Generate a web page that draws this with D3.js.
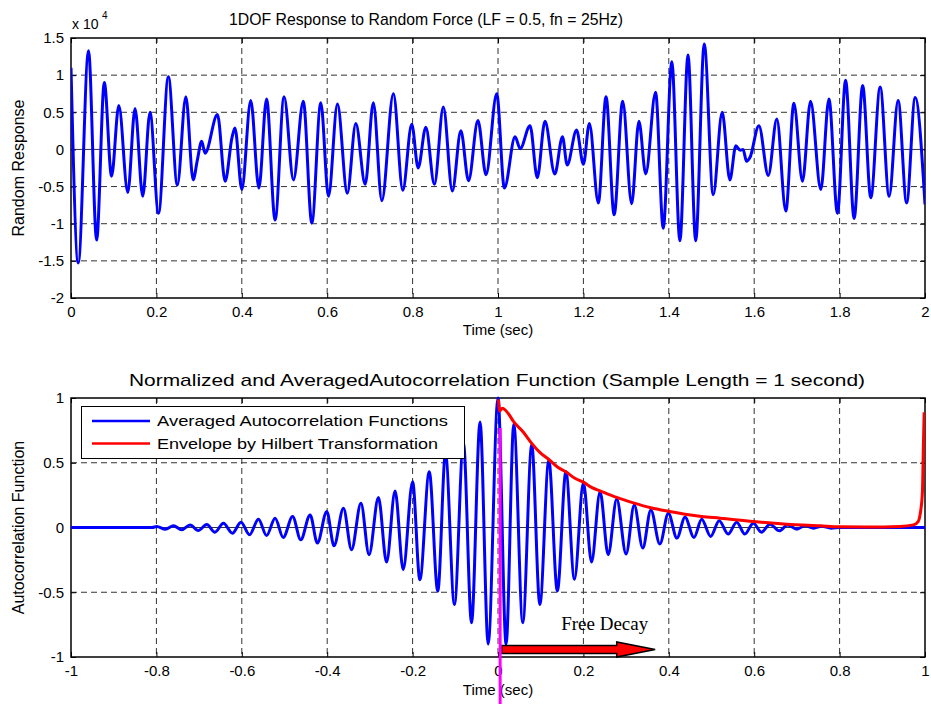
<!DOCTYPE html>
<html>
<head>
<meta charset="utf-8">
<title>1DOF Response and Autocorrelation</title>
<script src="https://d3js.org/d3.v7.min.js"></script>
<style>
	body { margin: 0; background: #fff; }
	text { font-family: "Liberation Sans", Arial, sans-serif; fill: #000; }
</style>
</head>
<body>
<div id="chart"></div>
<script type="text/javascript">

	// top plot: peaks / troughs of the random response (x 10^4)
	var respTime = [0.000, 0.017, 0.041, 0.060, 0.078, 0.095, 0.112, 0.133, 0.150, 0.168, 0.185, 0.205, 0.228, 0.249, 0.269, 0.286, 0.296, 0.306, 0.314, 0.343,
		0.361, 0.377, 0.384, 0.400, 0.421, 0.440, 0.458, 0.478, 0.499, 0.521, 0.544, 0.564, 0.585, 0.603, 0.624, 0.647, 0.667, 0.689, 0.708, 0.728,
		0.755, 0.777, 0.798, 0.813, 0.831, 0.851, 0.872, 0.893, 0.913, 0.931, 0.953, 0.972, 0.997, 1.015, 1.040, 1.052, 1.075, 1.092, 1.110, 1.133,
		1.151, 1.162, 1.184, 1.200, 1.214, 1.235, 1.253, 1.272, 1.292, 1.313, 1.330, 1.346, 1.369, 1.387, 1.407, 1.426, 1.445, 1.463, 1.483, 1.504,
		1.525, 1.543, 1.557, 1.567, 1.574, 1.582, 1.590, 1.611, 1.633, 1.653, 1.674, 1.693, 1.713, 1.732, 1.756, 1.775, 1.795, 1.814, 1.834, 1.854,
		1.873, 1.895, 1.916, 1.937, 1.957, 1.977, 2.000];
	var respValue = [1.10, -1.53, 1.33, -1.22, 0.90, -0.36, 0.59, -0.58, 0.55, -0.63, 0.50, -0.86, 0.98, -0.48, 0.71, -0.41, -0.14, 0.11, -0.05, 0.47,
		-0.43, 0.16, 0.29, -0.54, 0.66, -0.52, 0.68, -0.95, 0.71, -0.41, 0.65, -0.99, 0.63, -0.63, 0.61, -0.59, 0.35, -0.47, 0.63, -0.69,
		0.75, -0.55, 0.34, -0.25, 0.30, -0.47, 0.57, -0.56, 0.25, -0.42, 0.39, -0.34, 0.75, -0.52, 0.17, 0.01, 0.32, -0.38, 0.38, -0.33,
		0.17, -0.21, 0.26, -0.20, 0.35, -0.72, 0.71, -0.88, 0.65, -0.73, 0.38, -0.33, 0.77, -1.06, 1.18, -1.23, 1.27, -1.23, 1.42, -0.61,
		0.50, -0.41, 0.05, -0.01, 0.00, -0.16, -0.11, 0.32, -0.35, 0.41, -0.83, 0.62, -0.43, 0.65, -0.54, 0.68, -0.86, 0.93, -0.93, 0.86,
		-0.65, 0.84, -0.63, 0.66, -0.72, 0.70, -0.74];

	// bottom plot: averaged autocorrelation (peaks / troughs)
	var acfLag = [-1.000, -0.810, -0.799, -0.779, -0.760, -0.741, -0.721, -0.702, -0.682, -0.663, -0.643, -0.622, -0.602, -0.582, -0.561, -0.542, -0.522, -0.503,
		-0.481, -0.462, -0.440, -0.423, -0.401, -0.384, -0.362, -0.343, -0.321, -0.302, -0.280, -0.261, -0.241, -0.222, -0.200, -0.183, -0.161, -0.141,
		-0.123, -0.102, -0.081, -0.062, -0.042, -0.023, 0.000, 0.019, 0.037, 0.058, 0.079, 0.098, 0.119, 0.139, 0.159, 0.179, 0.200, 0.219,
		0.239, 0.258, 0.278, 0.300, 0.319, 0.339, 0.358, 0.379, 0.399, 0.419, 0.438, 0.459, 0.477, 0.498, 0.518, 0.539, 0.559, 0.578,
		0.598, 0.617, 0.637, 0.659, 0.678, 0.700, 0.719, 0.739, 0.758, 0.780, 0.800, 1.000];
	var acfValue = [0, 0, 0.008, -0.013, 0.013, -0.018, 0.020, -0.023, 0.023, -0.036, 0.033, -0.044, 0.041, -0.056, 0.064, -0.062, 0.072, -0.077,
		0.085, -0.095, 0.097, -0.120, 0.123, -0.141, 0.149, -0.172, 0.187, -0.210, 0.231, -0.267, 0.282, -0.326, 0.354, -0.403, 0.431, -0.492,
		0.572, -0.595, 0.656, -0.736, 0.815, -0.900, 1.000, -0.900, 0.800, -0.736, 0.640, -0.595, 0.520, -0.490, 0.430, -0.400, 0.346, -0.267,
		0.277, -0.210, 0.220, -0.205, 0.174, -0.159, 0.136, -0.128, 0.110, -0.082, 0.079, -0.077, 0.064, -0.069, 0.052, -0.051, 0.041, -0.051,
		0.033, -0.036, 0.026, -0.026, 0.020, -0.013, 0.015, -0.005, 0.010, -0.005, 0, 0];

	// envelope by Hilbert transformation
	var envLag = [0.001, 0.004, 0.010, 0.024, 0.037, 0.059, 0.079, 0.098, 0.119, 0.140, 0.159, 0.180, 0.200, 0.219, 0.239, 0.278, 0.317, 0.358,
		0.399, 0.438, 0.477, 0.520, 0.598, 0.676, 0.754, 0.801, 0.864, 0.941, 0.973, 0.984, 0.989, 0.994, 0.996, 0.998];
	var envValue = [0.99, 0.90, 0.92, 0.88, 0.815, 0.738, 0.65, 0.58, 0.525, 0.465, 0.43, 0.38, 0.35, 0.31, 0.283, 0.232, 0.19, 0.152,
		0.125, 0.103, 0.085, 0.072, 0.046, 0.026, 0.013, 0.005, 0.004, 0.008, 0.02, 0.046, 0.11, 0.277, 0.6, 0.89];

	var topXTicks = [0, 0.2, 0.4, 0.6, 0.8, 1, 1.2, 1.4, 1.6, 1.8, 2];
	var topYTicks = [-2, -1.5, -1, -0.5, 0, 0.5, 1, 1.5];
	var botXTicks = [-1, -0.8, -0.6, -0.4, -0.2, 0, 0.2, 0.4, 0.6, 0.8, 1];
	var botYTicks = [-1, -0.5, 0, 0.5, 1];

	var legendLabels = ["Averaged Autocorrelation Functions", "Envelope by Hilbert Transformation"];
	var legendColors = ["#0000ff", "#ff0000"];

	var width = 931, height = 704;
	var svg = d3.select("#chart").append("svg")
		.attr("width", width)
		.attr("height", height);

	// draw one MATLAB-like axes box with grid, inward ticks and labels
	function makeAxes(box, xdom, ydom, xticks, yticks) {
		var x = d3.scaleLinear().domain(xdom).range([box.left, box.right]);
		var y = d3.scaleLinear().domain(ydom).range([box.bottom, box.top]);
		var g = svg.append("g");

		// grid
		g.append("g").selectAll("line").data(xticks.slice(1, -1)).enter()
			.append("line")
			.attr("x1", function(d){ return x(d); }).attr("x2", function(d){ return x(d); })
			.attr("y1", box.top).attr("y2", box.bottom)
			.style("stroke", "#333").style("stroke-dasharray", "6,4").style("stroke-width", 1);
		g.append("g").selectAll("line").data(yticks.slice(1, -1)).enter()
			.append("line")
			.attr("y1", function(d){ return y(d); }).attr("y2", function(d){ return y(d); })
			.attr("x1", box.left).attr("x2", box.right)
			.style("stroke", "#333").style("stroke-dasharray", function(d){ return d === 0 ? null : "6,4"; })
			.style("stroke-width", 1);

		var fmt = function(d){ return String(d); };
		var ax = [
			g.append("g").attr("transform", "translate(0," + box.bottom + ")")
				.call(d3.axisBottom(x).tickValues(xticks).tickFormat(fmt).tickSize(-5).tickSizeOuter(0).tickPadding(8)),
			g.append("g").attr("transform", "translate(0," + box.top + ")")
				.call(d3.axisTop(x).tickValues(xticks).tickFormat("").tickSize(-5).tickSizeOuter(0)),
			g.append("g").attr("transform", "translate(" + box.left + ",0)")
				.call(d3.axisLeft(y).tickValues(yticks).tickFormat(fmt).tickSize(-5).tickSizeOuter(0).tickPadding(7)),
			g.append("g").attr("transform", "translate(" + box.right + ",0)")
				.call(d3.axisRight(y).tickValues(yticks).tickFormat("").tickSize(-5).tickSizeOuter(0))
		];
		ax.forEach(function(a){
			a.select(".domain").remove();
			a.selectAll("text").style("font-size", "15px").style("font-family", "\"Liberation Sans\", Arial, sans-serif").attr("fill", "#000");
			a.selectAll("line").attr("stroke", "#000");
		});

		g.append("rect")
			.attr("x", box.left).attr("y", box.top)
			.attr("width", box.right - box.left).attr("height", box.bottom - box.top)
			.style("fill", "none").style("stroke", "#000").style("stroke-width", 1.5);

		return { x: x, y: y, g: g };
	}

	var topBox = { left: 71, right: 925, top: 38, bottom: 298 };
	var botBox = { left: 71, right: 925, top: 398, bottom: 657 };

	var topAx = makeAxes(topBox, [0, 2], [-2, 1.5], topXTicks, topYTicks);
	var botAx = makeAxes(botBox, [-1, 1], [-1, 1], botXTicks, botYTicks);

	// clip paths
	var defs = svg.append("defs");
	defs.append("clipPath").attr("id", "clipTop").append("rect")
		.attr("x", topBox.left).attr("y", topBox.top).attr("width", topBox.right - topBox.left).attr("height", topBox.bottom - topBox.top);
	defs.append("clipPath").attr("id", "clipBot").append("rect")
		.attr("x", botBox.left).attr("y", botBox.top - 2).attr("width", botBox.right - botBox.left).attr("height", botBox.bottom - botBox.top + 4);

	// top series
	var respLine = d3.line()
		.x(function(d, i){ return topAx.x(respTime[i]); })
		.y(function(d){ return topAx.y(d); })
		.curve(d3.curveMonotoneX);
	svg.append("path")
		.datum(respValue)
		.attr("d", respLine)
		.attr("clip-path", "url(#clipTop)")
		.style("fill", "none").style("stroke", "#0000ff").style("stroke-width", 3).style("stroke-linejoin", "round");

	// bottom series
	var acfLine = d3.line()
		.x(function(d, i){ return botAx.x(acfLag[i]); })
		.y(function(d){ return botAx.y(d); })
		.curve(d3.curveMonotoneX);
	svg.append("path")
		.datum(acfValue)
		.attr("d", acfLine)
		.attr("clip-path", "url(#clipBot)")
		.style("fill", "none").style("stroke", "#0000ff").style("stroke-width", 3);

	var envLine = d3.line()
		.x(function(d, i){ return botAx.x(envLag[i]); })
		.y(function(d){ return botAx.y(d); })
		.curve(d3.curveMonotoneX);
	svg.append("path")
		.datum(envValue)
		.attr("d", envLine)
		.attr("clip-path", "url(#clipBot)")
		.style("fill", "none").style("stroke", "#ff0000").style("stroke-width", 3);

	// legend
	var leg = svg.append("g");
	leg.append("rect")
		.attr("x", 81.5).attr("y", 406.5).attr("width", 383).attr("height", 52)
		.style("fill", "#fff").style("stroke", "#000").style("stroke-width", 1);
	legendLabels.forEach(function(lbl, i){
		var yy = 421 + i * 22.5;
		leg.append("line")
			.attr("x1", 92).attr("x2", 150).attr("y1", yy).attr("y2", yy)
			.style("stroke", legendColors[i]).style("stroke-width", 2.6);
		leg.append("text")
			.attr("x", 157).attr("y", yy + 5)
			.attr("textLength", i === 0 ? 291 : 281).attr("lengthAdjust", "spacingAndGlyphs")
			.style("font-size", "15px")
			.text(lbl);
	});

	// titles and labels
	svg.append("text").attr("x", 229).attr("y", 25)
		.attr("textLength", 394).attr("lengthAdjust", "spacingAndGlyphs")
		.style("font-size", "17px")
		.text("1DOF Response to Random Force (LF = 0.5, fn = 25Hz)");
	svg.append("text").attr("x", 72).attr("y", 29).style("font-size", "14px").text("x 10");
	svg.append("text").attr("x", 102).attr("y", 19).style("font-size", "10px").text("4");

	svg.append("text").attr("x", 129).attr("y", 386)
		.attr("textLength", 736).attr("lengthAdjust", "spacingAndGlyphs")
		.style("font-size", "17px")
		.text("Normalized and AveragedAutocorrelation Function (Sample Length = 1 second)");

	svg.append("text").attr("x", 498).attr("y", 335).attr("text-anchor", "middle")
		.style("font-size", "15px").text("Time (sec)");
	svg.append("text").attr("x", 498).attr("y", 695).attr("text-anchor", "middle")
		.style("font-size", "15px").text("Time (sec)");

	svg.append("text").attr("transform", "translate(24," + ((topBox.top + topBox.bottom) / 2) + ") rotate(-90)")
		.attr("text-anchor", "middle").style("font-size", "16px").text("Random Response");
	svg.append("text").attr("transform", "translate(24," + ((botBox.top + botBox.bottom) / 2) + ") rotate(-90)")
		.attr("text-anchor", "middle").style("font-size", "16px").text("Autocorrelation Function");

	// free decay annotation
	var arrowStart = 0.009, arrowHead = 0.278, arrowTip = 0.368, arrowLevel = -0.942;
	var ay = botAx.y(arrowLevel);
	svg.append("path")
		.attr("d", d3.line()([
			[botAx.x(arrowStart), ay - 4], [botAx.x(arrowHead), ay - 4], [botAx.x(arrowHead), ay - 7.5],
			[botAx.x(arrowTip), ay], [botAx.x(arrowHead), ay + 7.5], [botAx.x(arrowHead), ay + 4],
			[botAx.x(arrowStart), ay + 4]
		]) + "Z")
		.style("fill", "#ff0000").style("stroke", "#000").style("stroke-width", 1.5);
	svg.append("text")
		.attr("x", botAx.x(0.148)).attr("y", botAx.y(-0.795))
		.style("font-family", "\"Liberation Serif\", \"Times New Roman\", serif")
		.style("font-size", "19px")
		.text("Free Decay");

	// marker at zero lag
	svg.append("line")
		.attr("x1", botAx.x(0.005)).attr("x2", botAx.x(0.005))
		.attr("y1", 428).attr("y2", height)
		.style("stroke", "#ff00ff").style("stroke-width", 3);

</script>
</body>
</html>
